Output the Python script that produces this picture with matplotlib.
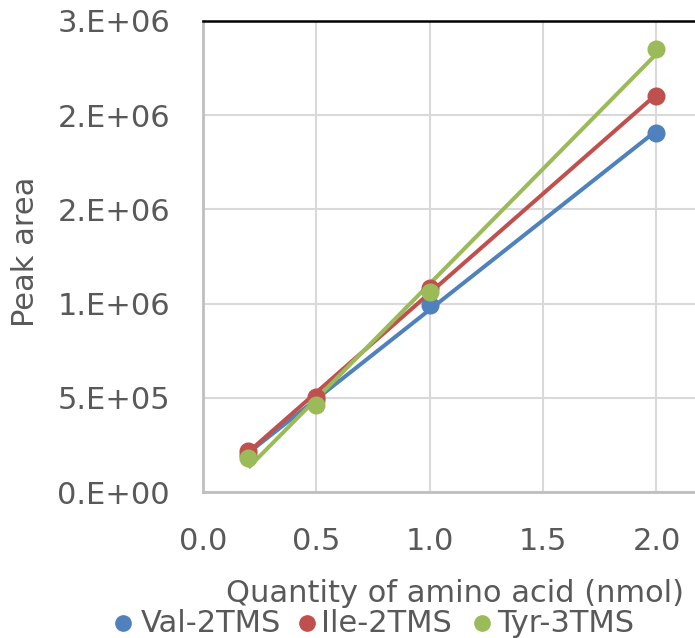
import matplotlib
matplotlib.use("Agg")
import matplotlib.pyplot as plt
import numpy as np
from matplotlib.lines import Line2D

x_vals = [0.2, 0.5, 1.0, 2.0]
val_2tms = [196000, 490000, 993000, 1907000]
ile_2tms = [218000, 504000, 1083000, 2103000]
tyr_3tms = [180000, 462000, 1062000, 2350000]
series_names = ["Val-2TMS", "Ile-2TMS", "Tyr-3TMS"]
colors = ["#4f81bd", "#c0504d", "#9bbb59"]
y_ticks = [0, 500000, 1000000, 1500000, 2000000, 2500000]
y_tick_labels = ["0.E+00", "5.E+05", "1.E+06", "2.E+06", "2.E+06", "3.E+06"]
x_ticks = [0.0, 0.5, 1.0, 1.5, 2.0]
x_tick_labels = ["0.0", "0.5", "1.0", "1.5", "2.0"]

txt = "#595959"
plt.rcParams['font.family'] = ['DejaVu Sans']
FS = 22

W, H = 695, 638
fig = plt.figure(figsize=(W/100, H/100), dpi=100)
ax = fig.add_axes([203/W, 1-492/H, 1-203/W, (492-21)/H])

for ys, c in zip([val_2tms, ile_2tms, tyr_3tms], colors):
    coef = np.polyfit(x_vals, ys, 1)
    xx = np.array([x_vals[0], x_vals[-1]])
    ax.plot(xx, np.polyval(coef, xx), color=c, lw=2.9, solid_capstyle='butt', zorder=3)
    ax.plot(x_vals, ys, 'o', color=c, ms=12, zorder=4)

ax.set_xlim(0, 2.17)
ax.set_ylim(0, 2500000)
ax.set_xticks(x_ticks)
ax.set_xticklabels(x_tick_labels)
ax.set_yticks(y_ticks)
ax.set_yticklabels(y_tick_labels)
ax.tick_params(axis='both', length=0, labelsize=FS, colors=txt)
ax.tick_params(axis='y', pad=23.8)
ax.tick_params(axis='x', pad=25)
ax.grid(True, color="#d9d9d9", lw=1.5, zorder=0)
ax.set_axisbelow(True)
ax.spines['right'].set_visible(False)
ax.spines['top'].set_color('black')
ax.spines['top'].set_linewidth(1.8)
ax.spines['left'].set_color('#bfbfbf')
ax.spines['left'].set_linewidth(2)
ax.spines['bottom'].set_color('#bfbfbf')
ax.spines['bottom'].set_linewidth(2)

ax.set_ylabel("Peak area", fontsize=FS, color=txt, va='center')
ax.yaxis.set_label_coords((25-203)/492, (492-252)/471)

fig.text(455/W, 1-602/H, "Quantity of amino acid (nmol)", fontsize=FS, color=txt,
         ha='center', va='baseline')

# legend (manual layout)
dot_x = [123, 307, 482]
text_x = [141, 321, 497]
for dx, tx, name, c in zip(dot_x, text_x, series_names, colors):
    fig.add_artist(Line2D([dx/W], [1-623/H], marker='o', ls='', color=c, ms=11,
                          transform=fig.transFigure))
    fig.text(tx/W, 1-632/H, name, fontsize=FS, color=txt, ha='left', va='baseline')

fig.savefig("out.png", dpi=100)
